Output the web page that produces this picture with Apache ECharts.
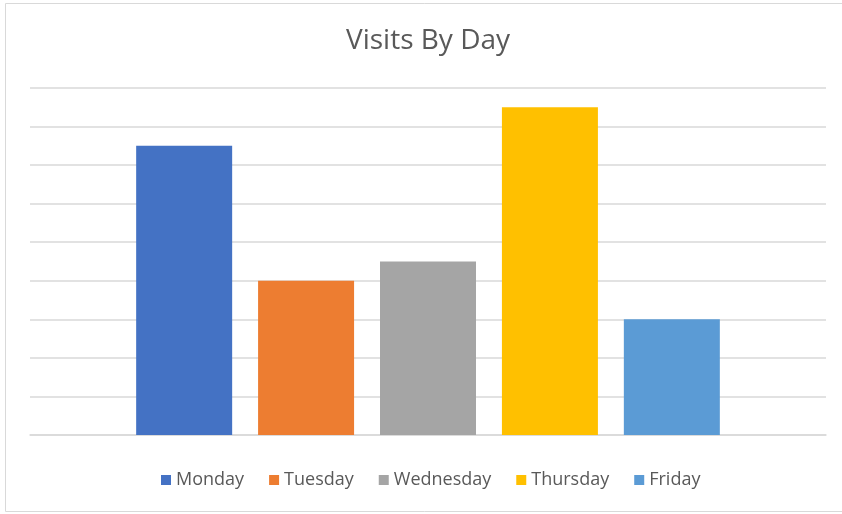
<!DOCTYPE html>
<html>
<head>
    <meta charset="utf-8">
    <title>Visits By Day</title>
    <script src="https://cdn.jsdelivr.net/npm/echarts@6/dist/echarts.min.js"></script>
    <style>
        html, body { margin: 0; padding: 0; background: #fff; }
    </style>
</head>
<body>
<div id="main" style="width: 842px;height: 514px;"></div>
<script>
    // 数据
    var days = ['Monday', 'Tuesday', 'Wednesday', 'Thursday', 'Friday'];
    var visits = [7.5, 4, 4.5, 8.5, 3];
    var colors = ['#4472C4', '#ED7D31', '#A5A5A5', '#FFC000', '#5B9BD5'];

    var myChart = echarts.init(document.getElementById('main'));

    // one category, one series per day (like the Excel chart)
    var series = days.map(function (d, i) {
        return {
            name: d,
            type: 'bar',
            barWidth: 96,
            barGap: '27%',
            itemStyle: { color: colors[i] },
            data: [visits[i]]
        };
    });

    var option = {
        textStyle: { fontFamily: 'Open Sans' },
        title: {
            text: 'Visits By Day',
            left: 341,
            top: 22,
            textStyle: { color: '#595959', fontSize: 28, fontWeight: 'normal', fontFamily: 'Open Sans' }
        },
        legend: {
            bottom: 20,
            left: 156,
            icon: 'rect',
            itemWidth: 10,
            itemHeight: 10,
            itemGap: 25,
            textStyle: { color: '#595959', fontSize: 18, fontFamily: 'Open Sans' }
        },
        grid: { left: 30, right: 16, top: 88, bottom: 79 },
        xAxis: {
            type: 'category',
            data: [''],
            axisTick: { show: false },
            axisLabel: { show: false },
            axisLine: { lineStyle: { color: '#d9d9d9', width: 1.5 } }
        },
        yAxis: {
            type: 'value',
            min: 0,
            max: 9,
            interval: 1,
            axisLabel: { show: false },
            axisLine: { show: false },
            axisTick: { show: false },
            splitLine: { lineStyle: { color: '#d9d9d9', width: 1.5 } }
        },
        graphic: [{
            type: 'rect',
            shape: { x: 5.5, y: 3.5, width: 845, height: 508 },
            style: { fill: 'none', stroke: '#d9d9d9', lineWidth: 1 },
            silent: true
        }],
        series: series
    };
    myChart.setOption(option);
</script>
</body>
</html>
